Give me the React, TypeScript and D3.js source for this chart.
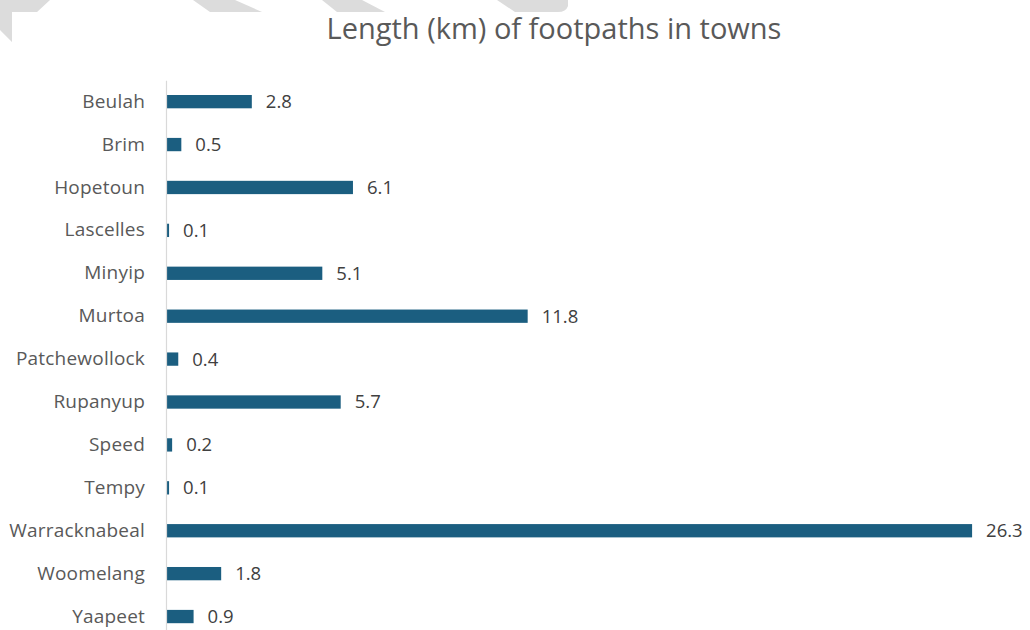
import { useEffect, useRef } from "react";
import * as d3 from "d3";

const towns = [
  "Beulah",
  "Brim",
  "Hopetoun",
  "Lascelles",
  "Minyip",
  "Murtoa",
  "Patchewollock",
  "Rupanyup",
  "Speed",
  "Tempy",
  "Warracknabeal",
  "Woomelang",
  "Yaapeet",
];

const lengthsKm = [2.8, 0.5, 6.1, 0.1, 5.1, 11.8, 0.4, 5.7, 0.2, 0.1, 26.3, 1.8, 0.9];

const chartTitle = "Length (km) of footpaths in towns";

export default function App() {
  const svgRef = useRef<SVGSVGElement>(null);
  const width = 1030;
  const height = 630;

  useEffect(() => {
    if (!svgRef.current) return;
    const svg = d3.select(svgRef.current);
    svg.selectAll("*").remove();

    const font = "'Open Sans', 'Noto Sans', sans-serif";

    // grey stripes in the frame around the page
    const stripes = [
      "M0,0 L50,0 L37,12 L12,12 L12,42 L0,30 Z",
      "M193,0 L235,0 L262,12 L210,12 Z",
      "M322,0 L362,0 L385,12 L337,12 Z",
      "M497,0 L568,0 L568,6 Q566,12 558,12 L515,12 Z",
    ];
    svg.append("g")
      .selectAll("path")
      .data(stripes)
      .enter()
      .append("path")
      .attr("d", d => d)
      .attr("fill", "#dcdcdc");

    // Scales
    const y = d3.scaleBand<string>()
      .domain(towns)
      .range([80.2, 638])
      .paddingInner(0.69)
      .paddingOuter(0.345);

    const x = d3.scaleLinear()
      .domain([0, 30])
      .range([166, 166 + 30 * 30.65]);

    // Title
    svg.append("text")
      .attr("x", 554)
      .attr("y", 39)
      .attr("text-anchor", "middle")
      .attr("font-family", font)
      .attr("font-size", 29)
      .attr("fill", "#595959")
      .text(chartTitle);

    // Bars
    const rows = towns.map((t, i) => ({ town: t, value: lengthsKm[i] }));

    svg.append("g")
      .selectAll("rect")
      .data(rows)
      .enter()
      .append("rect")
      .attr("x", x(0))
      .attr("y", d => y(d.town)!)
      .attr("width", d => x(d.value) - x(0))
      .attr("height", y.bandwidth())
      .attr("fill", "#1b5e80");

    // Category axis (line only)
    const axis = svg.append("g")
      .attr("transform", `translate(${x(0)},0)`)
      .call(d3.axisLeft(y).tickSize(0).tickPadding(21));
    axis.select(".domain").attr("stroke", "#d9d9d9").attr("stroke-width", 1.2);
    axis.selectAll("text")
      .attr("font-family", font)
      .attr("font-size", 19)
      .attr("letter-spacing", 0.2)
      .attr("fill", "#595959");

    // Value labels
    svg.append("g")
      .selectAll("text")
      .data(rows)
      .enter()
      .append("text")
      .attr("x", d => x(d.value) + 14)
      .attr("y", d => y(d.town)! + y.bandwidth() / 2)
      .attr("dy", "0.35em")
      .attr("font-family", font)
      .attr("font-size", 18.5)
      .attr("fill", "#404040")
      .text(d => d.value.toFixed(1));
  }, []);

  return (
    <div style={{ position: "absolute", left: 0, top: 0, width, height, background: "#fff" }}>
      <svg ref={svgRef} width={width} height={height} style={{ display: "block" }}></svg>
    </div>
  );
}
